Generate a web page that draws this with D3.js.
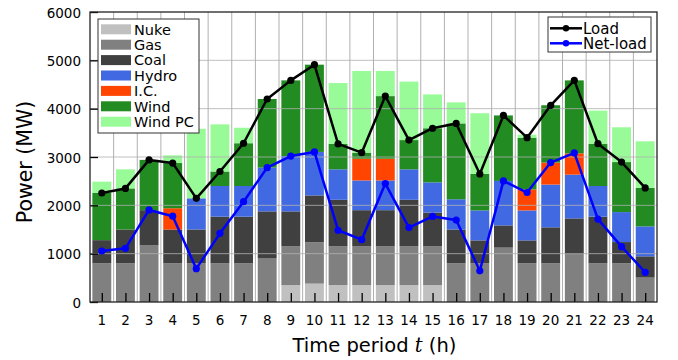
<!DOCTYPE html>
<html>
<head>
<meta charset="utf-8">
<script src="https://cdn.jsdelivr.net/npm/d3@7"></script>
<style>
  body { margin: 0; background: #fff; }
  svg { font-family: "DejaVu Sans", sans-serif; }
</style>
</head>
<body>
<svg class="chart" width="678" height="360"></svg>
<script>
const periods = d3.range(1, 25);

const nuke  = [0, 0, 0, 0, 0, 0, 0, 0, 350, 380, 350, 350, 350, 350, 350, 0, 0, 0, 0, 0, 0, 0, 0, 0];
const gas   = [800, 800, 1170, 800, 800, 800, 800, 900, 800, 855, 800, 800, 800, 800, 800, 800, 800, 1125, 800, 800, 985, 800, 800, 505];
const coal  = [480, 700, 730, 700, 700, 965, 965, 975, 725, 970, 965, 750, 750, 965, 700, 700, 475, 460, 475, 745, 745, 965, 440, 440];
const hydro = [0, 0, 0, 0, 645, 635, 635, 905, 1145, 900, 630, 615, 615, 630, 625, 625, 620, 920, 620, 885, 905, 635, 620, 620];
const ic    = [0, 0, 0, 440, 0, 0, 0, 0, 0, 0, 0, 450, 450, 0, 0, 0, 0, 0, 435, 455, 440, 0, 0, 0];
const wind  = [975, 850, 1040, 935, 0, 300, 885, 1420, 1565, 1805, 525, 125, 1295, 605, 1120, 1570, 755, 1355, 1070, 1185, 1510, 875, 1035, 795];
const windPC = [235, 395, 0, 160, 1440, 975, 320, 0, 0, 0, 1260, 1690, 520, 1210, 700, 435, 1255, 0, 60, 0, 0, 685, 720, 965];

const load    = [2255, 2350, 2940, 2875, 2145, 2700, 3285, 4200, 4585, 4910, 3270, 3090, 4260, 3350, 3595, 3695, 2650, 3860, 3400, 4070, 4585, 3275, 2895, 2360];
const netLoad = [1055, 1110, 1905, 1775, 690, 1420, 2075, 2780, 3020, 3105, 1485, 1290, 2450, 1540, 1770, 1695, 645, 2505, 2265, 2885, 3085, 1715, 1145, 615];

const yTicks = [0, 1000, 2000, 3000, 4000, 5000, 6000];

const series = [
    {key: 'Nuke', values: nuke, colour: '#c0c0c0'},
    {key: 'Gas', values: gas, colour: '#808080'},
    {key: 'Coal', values: coal, colour: '#404040'},
    {key: 'Hydro', values: hydro, colour: '#4169e1'},
    {key: 'I.C.', values: ic, colour: '#ff4500'},
    {key: 'Wind', values: wind, colour: '#228b22'},
    {key: 'Wind PC', values: windPC, colour: '#98fb98'}
];

const lines = [
    {key: 'Load', values: load, colour: '#000000'},
    {key: 'Net-load', values: netLoad, colour: '#0000ff'}
];

const margin = {top: 12, left: 90};
const width = 567, height = 290;

const svg = d3.select('.chart');
const chart = svg.append('g')
    .attr('transform', `translate(${margin.left}, ${margin.top})`);

const x = d3.scaleLinear().domain([0.5, 24.5]).range([0, width]);
const y = d3.scaleLinear().domain([0, 6000]).range([height, 0]);

// rows for the stack
const rows = periods.map((t, i) => {
    const r = {t: t};
    series.forEach(s => r[s.key] = s.values[i]);
    return r;
});
const stacked = d3.stack().keys(series.map(s => s.key))(rows);

// vertical grid between bars (drawn behind)
chart.append('g')
    .selectAll('line')
    .data(d3.range(1.5, 24, 1))
    .enter().append('line')
    .attr('x1', d => x(d)).attr('x2', d => x(d))
    .attr('y1', 0).attr('y2', height)
    .style('stroke', '#b0b0b0')
    .style('stroke-width', 1);

const barW = (x(2) - x(1)) * 0.8;

chart.selectAll('.layer')
    .data(stacked)
    .enter().append('g')
    .attr('class', 'layer')
    .style('fill', (d, i) => series[i].colour)
    .selectAll('rect')
    .data(d => d)
    .enter().append('rect')
    .attr('x', d => x(d.data.t) - barW / 2)
    .attr('y', d => y(d[1]))
    .attr('width', barW)
    .attr('height', d => y(d[0]) - y(d[1]));

// horizontal grid over the bars
chart.append('g')
    .selectAll('line')
    .data(yTicks.slice(1, -1))
    .enter().append('line')
    .attr('x1', 0).attr('x2', width)
    .attr('y1', d => y(d)).attr('y2', d => y(d))
    .style('stroke', '#b0b0b0')
    .style('stroke-opacity', 0.8)
    .style('stroke-width', 1);

// axes with inward ticks
const xAxis = chart.append('g')
    .attr('class', 'axis')
    .attr('transform', `translate(0,${height})`)
    .call(d3.axisTop(x).tickValues(periods).tickSize(9).tickFormat(''));
xAxis.select('.domain').remove();
xAxis.selectAll('line').style('stroke', '#000').style('stroke-width', 1.3);

chart.selectAll('.xlab')
    .data(periods)
    .enter().append('text')
    .attr('class', 'xlab')
    .attr('x', d => x(d))
    .attr('y', height + 22.5)
    .attr('text-anchor', 'middle')
    .style('font-size', '13.5px')
    .text(d => d);

const yAxis = chart.append('g')
    .attr('class', 'axis')
    .call(d3.axisRight(y).tickValues(yTicks).tickSize(8).tickFormat(''));
yAxis.select('.domain').remove();
yAxis.selectAll('line').style('stroke', '#000').style('stroke-width', 1.3);

chart.selectAll('.ylab')
    .data(yTicks)
    .enter().append('text')
    .attr('class', 'ylab')
    .attr('x', -9)
    .attr('y', d => y(d) + 5.5)
    .attr('text-anchor', 'end')
    .style('font-size', '13.5px')
    .text(d => d);

chart.append('rect')
    .attr('width', width).attr('height', height)
    .style('fill', 'none')
    .style('stroke', '#222')
    .style('stroke-width', 1.3);

// load lines
const lineGen = d3.line().x((d, i) => x(periods[i])).y(d => y(d));
lines.forEach(l => {
    chart.append('path')
        .datum(l.values)
        .attr('d', lineGen)
        .style('fill', 'none')
        .style('stroke', l.colour)
        .style('stroke-width', 2.5)
        .style('stroke-linejoin', 'round');
    chart.selectAll(null)
        .data(l.values)
        .enter().append('circle')
        .attr('cx', (d, i) => x(periods[i]))
        .attr('cy', d => y(d))
        .attr('r', 3.6)
        .style('fill', l.colour);
});

// axis titles
svg.append('text')
    .attr('transform', 'translate(32, 162) rotate(-90)')
    .attr('text-anchor', 'middle')
    .style('font-size', '20.5px')
    .text('Power (MW)');

const xt = svg.append('text')
    .attr('x', margin.left + width / 2 + 1)
    .attr('y', 351.5)
    .attr('text-anchor', 'middle')
    .style('font-size', '19.5px');
xt.append('tspan').text('Time period ');
xt.append('tspan').style('font-family', '"DejaVu Serif", serif').style('font-style', 'italic').text('t');
xt.append('tspan').text(' (h)');

// bar legend
const leg = chart.append('g').attr('transform', 'translate(8, 7)');
leg.append('rect')
    .attr('width', 101).attr('height', 114)
    .style('fill', '#fff')
    .style('stroke', '#333')
    .style('stroke-width', 1);
leg.selectAll('.item')
    .data(series)
    .enter().append('g')
    .attr('transform', (d, i) => `translate(3, ${10.3 + i * 15.4})`)
    .each(function (d) {
        const g = d3.select(this);
        g.append('rect').attr('x', 0).attr('y', -5).attr('width', 30).attr('height', 10).style('fill', d.colour);
        g.append('text').attr('x', 33).attr('y', 5.2).style('font-size', '14.5px').text(d.key);
    });

// line legend
const leg2 = chart.append('g').attr('transform', 'translate(458, 5)');
leg2.append('rect')
    .attr('width', 103).attr('height', 35)
    .style('fill', '#fff')
    .style('stroke', '#333')
    .style('stroke-width', 1);
leg2.selectAll('.item')
    .data(lines)
    .enter().append('g')
    .attr('transform', (d, i) => `translate(2, ${11.3 + i * 15})`)
    .each(function (d) {
        const g = d3.select(this);
        g.append('line').attr('x1', 0).attr('x2', 32).style('stroke', d.colour).style('stroke-width', 2.5);
        g.append('circle').attr('cx', 16).attr('r', 3.2).style('fill', d.colour);
        g.append('text').attr('x', 33).attr('y', 5.2).style('font-size', '15px').text(d.key);
    });
</script>
</body>
</html>
